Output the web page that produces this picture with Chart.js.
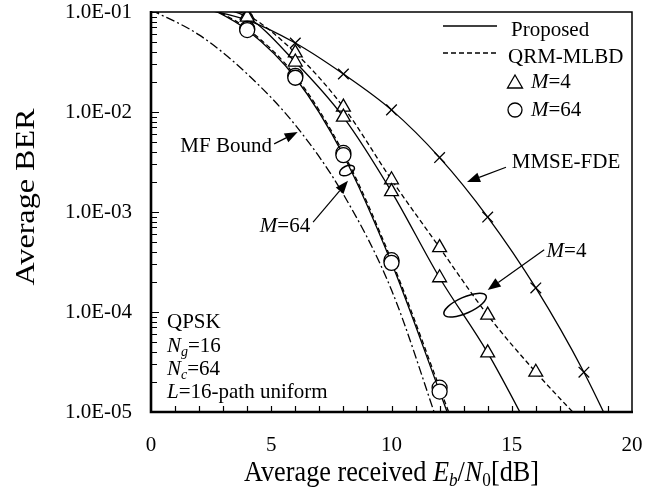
<!DOCTYPE html>
<html>
<head>
<meta charset="utf-8">
<script src="https://cdn.jsdelivr.net/npm/chart.js@4.4.0/dist/chart.umd.min.js"></script>
<style>
    html, body { margin: 0; padding: 0; background: #fff; }
</style>
</head>
<body>
<canvas id="ber-chart" width="659" height="499"></canvas>
<script>
// Eb/N0 [dB] sample points
var ebn0 = [0, 2, 4, 6, 8, 10, 12, 14, 16, 18, 20];

// average BER (values outside 1e-1..1e-5 only steer the curve into the frame)
var proposedM4  = [null, 0.115, 0.089, 0.0316, 0.0089, 0.0016, 2.2e-4, 3.9e-5, 5e-6, null, null];
var qrmM4       = [null, 0.12, 0.093, 0.039, 0.0112, 0.0021, 4.4e-4, 9.3e-5, 2.5e-5, 7.6e-6, null];
var proposedM64 = [null, 0.125, 0.066, 0.022, 0.0037, 3.1e-4, 1.6e-5, 8e-7, null, null, null];
var qrmM64      = [null, 0.125, 0.068, 0.023, 0.0039, 3.3e-4, 1.75e-5, 9e-7, null, null, null];
var mmseFde     = [null, 0.11, 0.083, 0.049, 0.024, 0.0105, 0.0035, 8.9e-4, 1.74e-4, 2.5e-5, 2.5e-6];
var mfBound     = [0.105, 0.059, 0.024, 0.0074, 0.0015, 1.66e-4, 6.9e-6, null, null, null, null];

var yTickValues = [1e-5, 1e-4, 1e-3, 1e-2, 1e-1];
var yTickLabels = ["1.0E-05", "1.0E-04", "1.0E-03", "1.0E-02", "1.0E-01"];

var FONT = "'Liberation Serif', 'DejaVu Serif', serif";

window.addEventListener("load", init);

function init() {
    Chart.defaults.font.family = FONT;
    Chart.defaults.color = "#000";
    initBerChart();
}

function toPoints(arr) {
    return ebn0.map(function (x, i) { return { x: x, y: arr[i] }; });
}

function markerSize(r) {
    return function (ctx) {
        var v = ctx.raw && ctx.raw.y;
        return (v != null && v <= 0.1 && v >= 1e-5) ? r : 0;
    };
}

function series(values, style, dash, r) {
    return {
        data: toPoints(values),
        borderColor: "#000",
        backgroundColor: "#fff",
        borderWidth: 1.3,
        borderDash: dash,
        pointStyle: style,
        pointRadius: style ? markerSize(r) : 0,
        pointBorderWidth: 1.3,
        pointBorderColor: "#000",
        pointBackgroundColor: "#fff",
        cubicInterpolationMode: "monotone",
        spanGaps: false
    };
}

// mixed-font text on one line: parts = [text, font, dy]
function drawRich(ctx, parts, x, y, align) {
    var w = 0;
    parts.forEach(function (p) { ctx.font = p[1]; w += ctx.measureText(p[0]).width; });
    var cx = align === "right" ? x - w : (align === "center" ? x - w / 2 : x);
    ctx.textAlign = "left";
    ctx.textBaseline = "middle";
    parts.forEach(function (p) {
        ctx.font = p[1];
        ctx.fillText(p[0], cx, y + (p[2] || 0));
        cx += ctx.measureText(p[0]).width;
    });
    return w;
}

function arrow(ctx, x1, y1, x2, y2) {
    var a = Math.atan2(y2 - y1, x2 - x1);
    var len = 13, half = 5;
    ctx.beginPath();
    ctx.moveTo(x1, y1);
    ctx.lineTo(x2 - len * Math.cos(a), y2 - len * Math.sin(a));
    ctx.stroke();
    ctx.beginPath();
    ctx.moveTo(x2, y2);
    ctx.lineTo(x2 - len * Math.cos(a) + half * Math.sin(a), y2 - len * Math.sin(a) - half * Math.cos(a));
    ctx.lineTo(x2 - len * Math.cos(a) - half * Math.sin(a), y2 - len * Math.sin(a) + half * Math.cos(a));
    ctx.closePath();
    ctx.fill();
}

var decorPlugin = {
    id: "decor",
    afterDatasetsDraw: function (chart) {
        var ctx = chart.ctx;
        var a = chart.chartArea;
        var xs = chart.scales.x, ys = chart.scales.y;
        var px = function (v) { return xs.getPixelForValue(v); };
        var py = function (v) { return ys.getPixelForValue(v); };
        var n = "21px " + FONT, it = "italic 21px " + FONT;
        var sub = "italic 14px " + FONT;

        ctx.save();
        ctx.strokeStyle = "#000";
        ctx.fillStyle = "#000";

        // frame
        ctx.lineWidth = 1.5;
        ctx.beginPath();
        ctx.moveTo(a.left, a.top); ctx.lineTo(a.right, a.top); ctx.lineTo(a.right, a.bottom);
        ctx.stroke();
        ctx.lineWidth = 2.6;
        ctx.beginPath();
        ctx.moveTo(a.left, a.top - 1); ctx.lineTo(a.left, a.bottom); ctx.lineTo(a.right + 1, a.bottom);
        ctx.stroke();

        // inner ticks
        ctx.lineWidth = 1.2;
        ctx.beginPath();
        for (var d = -5; d < -1; d++) {
            for (var m = 2; m <= 9; m++) {
                var yy = Math.round(py(m * Math.pow(10, d))) + 0.5;
                ctx.moveTo(a.left, yy); ctx.lineTo(a.left + 6, yy);
            }
            var yd = Math.round(py(Math.pow(10, d + 1))) + 0.5;
            ctx.moveTo(a.left, yd); ctx.lineTo(a.left + 8, yd);
        }
        for (var k = 1; k < 20; k++) {
            var xx = Math.round(px(k)) + 0.5;
            ctx.moveTo(xx, a.bottom); ctx.lineTo(xx, a.bottom - 6);
        }
        ctx.stroke();

        // legend
        var lx = a.right - 189;
        ctx.lineWidth = 1.3;
        ctx.beginPath(); ctx.moveTo(lx, a.top + 14); ctx.lineTo(lx + 54, a.top + 14); ctx.stroke();
        ctx.setLineDash([5, 3]);
        ctx.beginPath(); ctx.moveTo(lx, a.top + 41); ctx.lineTo(lx + 54, a.top + 41); ctx.stroke();
        ctx.setLineDash([]);
        drawRich(ctx, [["Proposed", n]], a.right - 121, a.top + 18, "left");
        drawRich(ctx, [["QRM-MLBD", n]], a.right - 124, a.top + 45, "left");
        var mx = a.right - 117;
        ctx.beginPath();
        ctx.moveTo(mx, a.top + 63); ctx.lineTo(mx + 7.5, a.top + 76); ctx.lineTo(mx - 7.5, a.top + 76);
        ctx.closePath(); ctx.stroke();
        drawRich(ctx, [["M", it], ["=4", n]], a.right - 101, a.top + 70, "left");
        ctx.beginPath(); ctx.arc(mx, a.top + 98, 7, 0, Math.PI * 2); ctx.stroke();
        drawRich(ctx, [["M", it], ["=64", n]], a.right - 101, a.top + 98, "left");

        // curve labels
        ctx.lineWidth = 1.2;
        drawRich(ctx, [["MF Bound", n]], px(5.03), py(4.5e-3), "right");
        arrow(ctx, px(5.12), py(4.8e-3), px(6.1), py(6.3e-3));
        drawRich(ctx, [["MMSE-FDE", n]], px(15.0), py(3.1e-3), "left");
        arrow(ctx, px(14.76), py(2.8e-3), px(13.14), py(2.0e-3));
        drawRich(ctx, [["M", it], ["=64", n]], px(6.62), py(7.1e-4), "right");
        arrow(ctx, px(6.74), py(7.9e-4), px(8.19), py(2.05e-3));
        drawRich(ctx, [["M", it], ["=4", n]], px(16.45), py(4.0e-4), "left");
        arrow(ctx, px(16.35), py(4.2e-4), px(14.0), py(1.66e-4));
        ctx.lineWidth = 1.5;
        ctx.beginPath(); ctx.ellipse(px(8.15), py(2.6e-3), 8, 4.5, -0.45, 0, Math.PI * 2); ctx.stroke();
        ctx.beginPath(); ctx.ellipse(px(13.06), py(1.17e-4), 23, 8, -0.42, 0, Math.PI * 2); ctx.stroke();

        // condition block
        var bx = a.left + 16;
        drawRich(ctx, [["QPSK", n]], bx, a.bottom - 90, "left");
        drawRich(ctx, [["N", it], ["g", sub, 6], ["=16", n]], bx, a.bottom - 66, "left");
        drawRich(ctx, [["N", it], ["c", sub, 6], ["=64", n]], bx, a.bottom - 43, "left");
        drawRich(ctx, [["L", it], ["=16-path uniform", n]], bx, a.bottom - 20, "left");

        // axis titles, squeezed to the widths of the original
        var tf = "29px " + FONT, tfi = "italic 29px " + FONT;
        var xParts = [["Average received ", tf], ["E", tfi], ["b", "italic 19px " + FONT, 8], ["/", tf],
                      ["N", tfi], ["0", "19px " + FONT, 8], ["[dB]", tf]];
        var w = 0;
        xParts.forEach(function (p) { ctx.font = p[1]; w += ctx.measureText(p[0]).width; });
        ctx.save();
        ctx.translate((a.left + a.right) / 2, 473);
        ctx.scale(295 / w, 1);
        drawRich(ctx, xParts, 0, 0, "center");
        ctx.restore();

        ctx.save();
        ctx.font = "27px " + FONT;
        var wy = ctx.measureText("Average BER").width;
        ctx.translate(27, 197);
        ctx.rotate(-Math.PI / 2);
        ctx.scale(177 / wy, 1);
        drawRich(ctx, [["Average BER", "27px " + FONT]], 0, 0, "center");
        ctx.restore();

        ctx.restore();
    }
};

function initBerChart() {
    const data = {
        datasets: [
            series(mfBound, false, [9, 3, 2, 3], 0),
            series(proposedM64, "circle", [], 7.5),
            series(qrmM64, "circle", [5, 3], 7.5),
            series(proposedM4, "triangle", [], 8),
            series(qrmM4, "triangle", [5, 3], 8),
            series(mmseFde, "crossRot", [], 7.5)
        ]
    };

    const config = {
        type: "line",
        data: data,
        options: {
            responsive: false,
            animation: false,
            layout: { padding: { top: 12, right: 27, left: 0, bottom: 0 } },
            plugins: {
                legend: { display: false },
                tooltip: { enabled: false }
            },
            scales: {
                x: {
                    type: "linear",
                    min: 0,
                    max: 20,
                    grid: { display: false, drawTicks: false },
                    border: { display: false },
                    ticks: { stepSize: 5, maxRotation: 0, autoSkip: false, padding: 21, font: { size: 21 } },
                    afterFit: function (s) {
                        s.height = 87;
                        s.paddingLeft = 0;
                        s.paddingRight = 0;
                    }
                },
                y: {
                    type: "logarithmic",
                    min: 1e-5,
                    max: 1e-1,
                    grid: { display: false, drawTicks: false },
                    border: { display: false },
                    afterBuildTicks: function (s) {
                        s.ticks = yTickValues.map(function (v) { return { value: v, major: true }; });
                    },
                    ticks: {
                        padding: 19,
                        font: { size: 21 },
                        callback: function (v, i) { return yTickLabels[i]; }
                    },
                    afterFit: function (s) {
                        s.width = 151;
                        s.paddingTop = 0;
                        s.paddingBottom = 0;
                    }
                }
            }
        },
        plugins: [decorPlugin]
    };
    const berChart = new Chart(document.getElementById("ber-chart"), config);
}
</script>
</body>
</html>
